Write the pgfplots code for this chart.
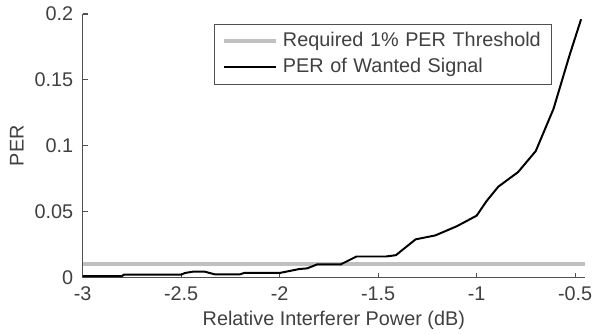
\documentclass[border=0pt]{standalone}
\usepackage{pgfplots}
\pgfplotsset{compat=1.18}
\usepackage{fontspec}
\setmainfont{Liberation Sans}
\definecolor{txt}{HTML}{404040}
\definecolor{axc}{HTML}{505050}
\definecolor{thr}{HTML}{C0C0C0}
\begin{document}
\begin{tikzpicture}
\path[use as bounding box] (-41.5bp,-28bp) rectangle (256bp,139.5bp);
\begin{axis}[
  scale only axis,
  width=252.5bp, height=132.5bp,
  xmin=-3, xmax=-0.45, ymin=0, ymax=0.2,
  axis x line*=bottom, axis y line*=left,
  axis line style={axc, line width=0.6bp},
  xtick={-3,-2.5,-2,-1.5,-1,-0.5},
  ytick={0,0.05,0.1,0.15,0.2},
  yticklabels={0,0.05,0.1,0.15,0.2},
  xticklabels={-3,-2.5,-2,-1.5,-1,-0.5},
  tick align=inside,
  major tick length=2.5bp,
  tick style={axc, line width=0.6bp},
  every tick label/.style={font=\fontsize{10}{12}\selectfont, text=txt},
  yticklabel style={inner sep=0pt, anchor=east, xshift=-4.5bp},
  xticklabel style={inner sep=0pt, anchor=north, yshift=-4.5bp},
  label style={font=\fontsize{10}{12}\selectfont, text=txt},
  xlabel={Relative Interferer Power (dB)},
  ylabel={PER},
  xlabel style={at={(axis description cs:0.5,-0.1811)}, anchor=base, inner sep=0pt},
  ylabel style={at={(axis description cs:-0.1307,0.5)}, anchor=center, inner sep=0pt},
  legend style={at={(axis description cs:0.9347,0.962)}, anchor=north east,
    draw=axc, line width=0.6bp, fill=white,
    inner xsep=4bp, inner ysep=2bp, column sep=2.5bp,
    font=\fontsize{10}{12}\selectfont, text=txt,
    nodes={inner xsep=0pt, inner ysep=1.65bp, text height=7.5bp, text depth=2.2bp, text width=131bp, align=left}},
  legend cell align=left,
  legend image code/.code={\draw[#1] (0bp,0bp) -- (26bp,0bp);},
]
\addplot[thr, line width=2bp] coordinates {(-3,0.01) (-0.45,0.01)};
\addlegendentry{Required 1\% PER Threshold}
\addplot[black, line width=1bp, line join=round] coordinates {
(-3.00,0.0012)
(-2.80,0.0012)
(-2.79,0.0022)
(-2.50,0.0022)
(-2.48,0.0035)
(-2.44,0.0045)
(-2.38,0.0045)
(-2.33,0.0025)
(-2.20,0.0025)
(-2.18,0.0035)
(-2.00,0.0035)
(-1.95,0.0050)
(-1.90,0.0065)
(-1.86,0.0070)
(-1.81,0.0100)
(-1.69,0.0100)
(-1.65,0.0130)
(-1.61,0.0160)
(-1.46,0.0160)
(-1.41,0.0170)
(-1.36,0.0230)
(-1.31,0.0290)
(-1.21,0.0320)
(-1.10,0.0390)
(-1.00,0.0470)
(-0.95,0.0580)
(-0.89,0.0690)
(-0.79,0.0800)
(-0.70,0.0960)
(-0.61,0.1280)
(-0.53,0.1680)
(-0.47,0.1960)
};
\addlegendentry{PER of Wanted Signal}
\end{axis}
\end{tikzpicture}
\end{document}
